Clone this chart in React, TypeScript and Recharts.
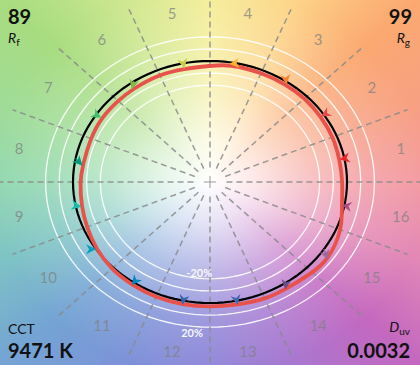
import { ComposedChart, Line, Scatter, XAxis, YAxis } from 'recharts';

document.body.style.margin = '0';

const W = 420;
const H = 365;

// ─── Data ─────────────────────────────────────────────────────────────────────

const HUE_BINS = ['1', '2', '3', '4', '5', '6', '7', '8', '9', '10', '11', '12', '13', '14', '15', '16'];
const BIN_COLORS = [
  '#E62828', '#E74B4B', '#FB812E', '#FFB529', '#CBCA46', '#7EB94C', '#41C06D', '#009C7C',
  '#16BCB0', '#00A4BF', '#0085C3', '#3B62AA', '#4568AE', '#6A4E85', '#9D69A1', '#A74F81',
];
// test source chroma at each bin centre, relative to the reference circle
const CENTRE_CHROMA = [0.965, 0.975, 0.98, 0.985, 0.955, 0.955, 0.955, 0.94, 0.96, 1.0, 1.025, 1.035, 1.035, 1.045, 1.075, 0.98];
// hue shift of the test source at each bin centre (degrees)
const HUE_SHIFT = [0, 0, -1, 3, 0, 3, 0, 3, 1, 0, 0, 0, 0, -2, -3, 0];
// red line read at the bin edges (between the centres)
const EDGE_CHROMA = [0.97, 0.975, 0.98, 0.98, 0.96, 0.965, 0.95, 0.945, 0.95, 0.975, 1.02, 1.035, 1.035, 1.05, 1.06, 1.045];
const RINGS = [0.8, 0.9, 1.1, 1.2];
const RING_TEXT = [
  { label: '-20%', ring: 0.8 },
  { label: '20%', ring: 1.2 },
];
const RF = 89;
const RG = 99;
const CCT = 9471;
const DUV = 0.0032;

// ─── Geometry ─────────────────────────────────────────────────────────────────

const CX = 210;
const CY = 182;
const UNIT_X = 137;
const UNIT_Y = 121;
const X_DOMAIN: [number, number] = [-CX / UNIT_X, (W - CX) / UNIT_X];
const Y_DOMAIN: [number, number] = [-(H - CY) / UNIT_Y, CY / UNIT_Y];
const PX_X = W / (X_DOMAIN[1] - X_DOMAIN[0]);
const PX_Y = H / (Y_DOMAIN[1] - Y_DOMAIN[0]);

const BIN_W = 360 / HUE_BINS.length;
const polar = (r: number, deg: number) => ({
  x: r * Math.cos((deg * Math.PI) / 180),
  y: r * Math.sin((deg * Math.PI) / 180),
});
const ellipse = (r: number) => Array.from({ length: 120 }, (_, i) => polar(r, i * 3));

const testCurve = HUE_BINS.flatMap((_, i) => [
  polar(EDGE_CHROMA[i], i * BIN_W),
  polar(CENTRE_CHROMA[i], (i + 0.5) * BIN_W + HUE_SHIFT[i]),
]);

const arrows = HUE_BINS.map((_, i) => {
  const ref = polar(1, (i + 0.5) * BIN_W);
  const test = polar(CENTRE_CHROMA[i], (i + 0.5) * BIN_W + HUE_SHIFT[i]);
  return { ...test, dx: test.x - ref.x, dy: test.y - ref.y, color: BIN_COLORS[i] };
});

const binLabels = HUE_BINS.map((label, i) => ({ ...polar(1.42, (i + 0.5) * BIN_W), label }));

const spokes = HUE_BINS.map((_, i) => [polar(0.12, i * BIN_W), polar(1.56, i * BIN_W)]);

const ringLabels = RING_TEXT.map((t) => ({
  ...polar(t.ring < 1 ? t.ring - 0.05 : t.ring + 0.05, 264),
  label: t.label,
  white: true,
}));

// ─── Shapes ───────────────────────────────────────────────────────────────────

function ArrowHead(props: any) {
  const { cx, cy, payload } = props;
  const px = payload.dx * PX_X;
  const py = -payload.dy * PX_Y;
  const ang = (Math.atan2(py, px) * 180) / Math.PI;
  const len = Math.hypot(px, py);
  return (
    <g transform={`translate(${cx},${cy}) rotate(${ang})`}>
      {len > 4 && <line x1={-len} y1={0} x2={-4} y2={0} stroke={payload.color} strokeWidth={1.5} />}
      <path d="M0,0 L-10,-5 L-7,0 L-10,5 Z" fill={payload.color} />
    </g>
  );
}

function TextMark(props: any) {
  const { cx, cy, payload } = props;
  return (
    <text
      x={cx}
      y={cy}
      textAnchor="middle"
      dominantBaseline="central"
      fontSize={payload.white ? 11 : 15}
      fontWeight={payload.white ? 700 : 400}
      fill={payload.white ? '#ffffff' : '#808080'}
      fillOpacity={payload.white ? 0.95 : 0.75}
    >
      {payload.label}
    </text>
  );
}

const BACKGROUND = [
  `radial-gradient(ellipse ${UNIT_X}px ${UNIT_Y}px at ${CX}px ${CY}px, rgba(255,255,255,1) 0%, rgba(255,255,255,0.78) 32%, rgba(255,255,255,0.4) 75%, rgba(255,255,255,0.15) 115%, rgba(255,255,255,0) 160%)`,
  `conic-gradient(from 0deg at ${CX}px ${CY}px, #f5ee9a 0deg, #fdd58a 25deg, #fba870 49deg, #f7a084 70deg, #f39aa2 90deg, #e388b6 110deg, #c468c0 131deg, #a877d0 155deg, #8f86d8 180deg, #7d92d8 205deg, #74a4d4 229deg, #7ec4c4 250deg, #92d8b0 270deg, #a0dc98 290deg, #a8dc80 311deg, #d0e890 335deg, #f5ee9a 360deg)`,
].join(', ');

const FONT = 'Lato, "Open Sans", sans-serif';

export default function App() {
  return (
    <div style={{ position: 'relative', width: W, height: H, background: BACKGROUND, fontFamily: FONT, color: '#111' }}>
      <ComposedChart width={W} height={H} margin={{ top: 0, right: 0, bottom: 0, left: 0 }} style={{ position: 'absolute', left: 0, top: 0 }}>
        <XAxis type="number" dataKey="x" domain={X_DOMAIN} allowDataOverflow hide />
        <YAxis type="number" dataKey="y" domain={Y_DOMAIN} allowDataOverflow hide />

        {/* Chroma rings */}
        {RINGS.map((r) => (
          <Line key={`ring-${r}`} data={ellipse(r)} dataKey="y" type="linearClosed" stroke="#ffffff" strokeWidth={1.3}
            strokeOpacity={0.9} dot={false} activeDot={false} isAnimationActive={false} />
        ))}

        {/* Hue bin boundaries */}
        {spokes.map((s, i) => (
          <Line key={`spoke-${i}`} data={s} dataKey="y" stroke="#8a8a8a" strokeOpacity={0.85} strokeWidth={1.5}
            strokeDasharray="6 4" dot={false} activeDot={false} isAnimationActive={false} />
        ))}
        <Line data={[{ x: -0.045, y: 0 }, { x: 0.045, y: 0 }]} dataKey="y" stroke="#999" strokeWidth={1} dot={false} activeDot={false} isAnimationActive={false} />
        <Line data={[{ x: 0, y: -0.05 }, { x: 0, y: 0.05 }]} dataKey="y" stroke="#999" strokeWidth={1} dot={false} activeDot={false} isAnimationActive={false} />

        {/* Reference and test */}
        <Line data={ellipse(1)} dataKey="y" type="linearClosed" stroke="#000000" strokeWidth={2.2}
          dot={false} activeDot={false} isAnimationActive={false} />
        <Line data={testCurve} dataKey="y" type="basisClosed" stroke="#E8524A" strokeWidth={3.8}
          strokeLinejoin="round" dot={false} activeDot={false} isAnimationActive={false} />

        <Scatter data={arrows} dataKey="y" shape={ArrowHead} isAnimationActive={false} />
        <Scatter data={binLabels} dataKey="y" shape={TextMark} isAnimationActive={false} />
        <Scatter data={ringLabels} dataKey="y" shape={TextMark} isAnimationActive={false} />
      </ComposedChart>

      <div style={{ position: 'absolute', left: 8, top: 6, fontSize: 20, fontWeight: 700, lineHeight: 1 }}>{RF}</div>
      <div style={{ position: 'absolute', left: 8, top: 31, fontSize: 14, lineHeight: 1 }}>
        <i>R</i><sub style={{ fontSize: 10, verticalAlign: -3 }}>f</sub>
      </div>
      <div style={{ position: 'absolute', right: 8, top: 6, fontSize: 20, fontWeight: 700, lineHeight: 1 }}>{RG}</div>
      <div style={{ position: 'absolute', right: 10, top: 31, fontSize: 14, lineHeight: 1 }}>
        <i>R</i><sub style={{ fontSize: 10, verticalAlign: -3 }}>g</sub>
      </div>
      <div style={{ position: 'absolute', left: 8, top: 322, fontSize: 14, lineHeight: 1 }}>CCT</div>
      <div style={{ position: 'absolute', left: 8, top: 340, fontSize: 20, fontWeight: 700, lineHeight: 1 }}>{CCT} K</div>
      <div style={{ position: 'absolute', right: 10, top: 320, fontSize: 14, lineHeight: 1 }}>
        <i>D</i><sub style={{ fontSize: 10, verticalAlign: -3 }}>uv</sub>
      </div>
      <div style={{ position: 'absolute', right: 10, top: 340, fontSize: 20, fontWeight: 700, lineHeight: 1 }}>{DUV.toFixed(4)}</div>
    </div>
  );
}
